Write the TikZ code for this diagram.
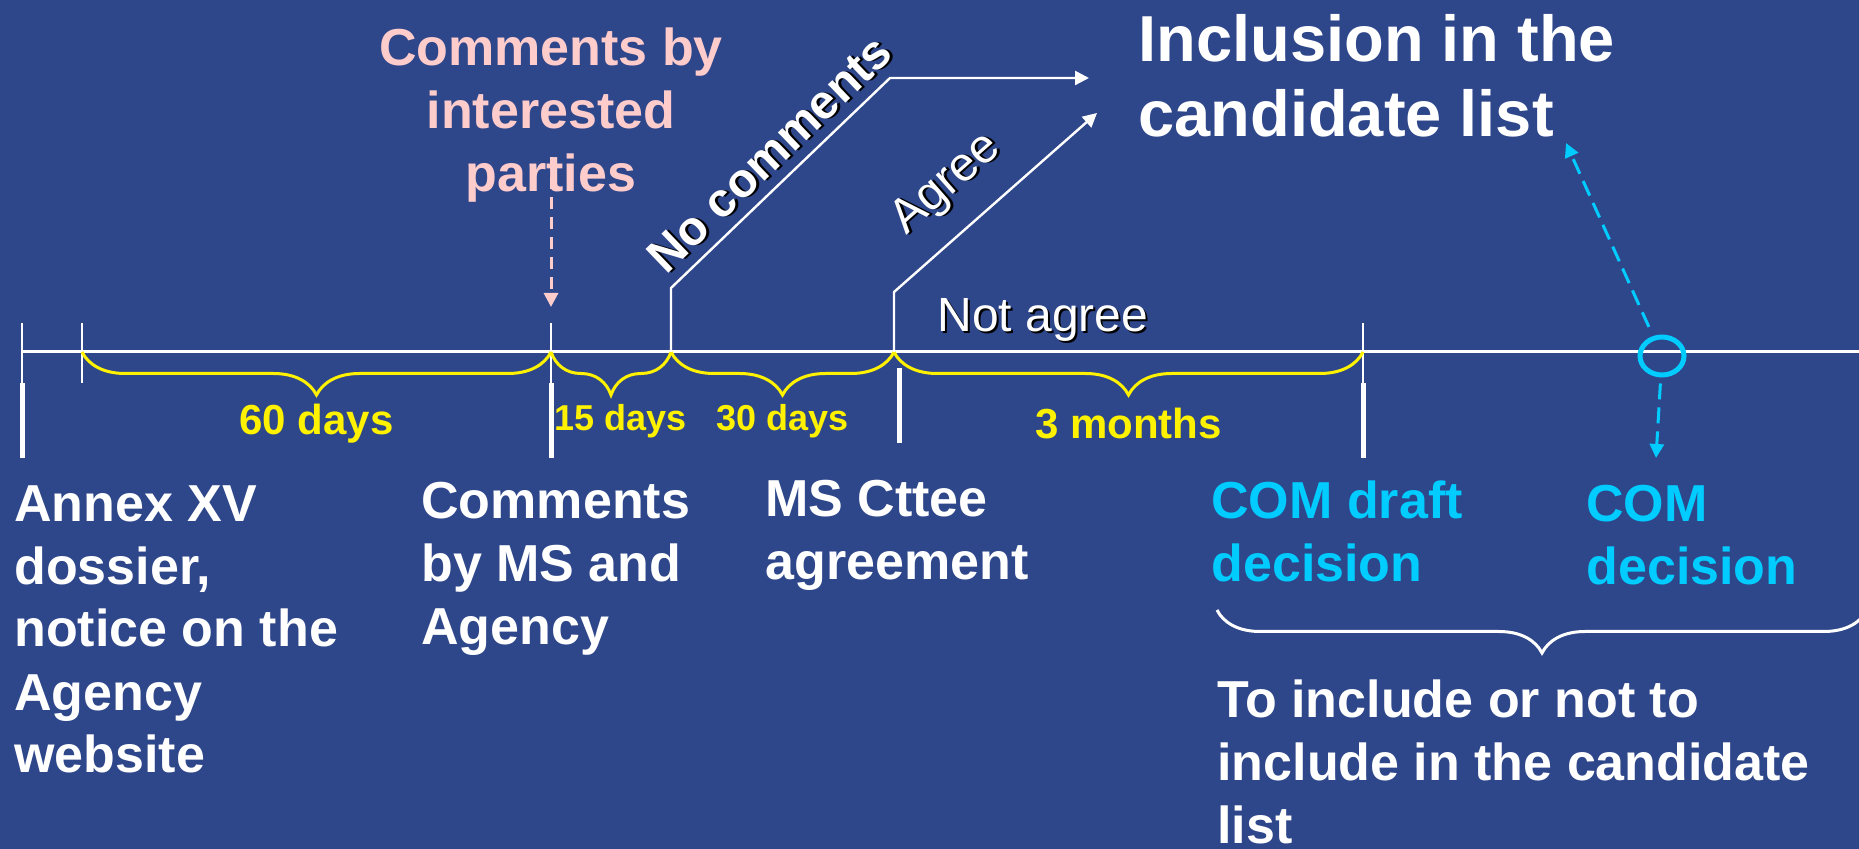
\documentclass[tikz,border=0pt]{standalone}
\usepackage{fontspec}
\setmainfont{Liberation Sans}
\usetikzlibrary{arrows.meta,calc,decorations.pathreplacing,shapes.geometric}

\definecolor{slidebg}{RGB}{46,70,138}
\definecolor{ipink}{RGB}{255,204,204}
\definecolor{comcyan}{RGB}{0,204,255}

% white text with a dark drop shadow
\newcommand{\shtext}[1]{\makebox[0pt][l]{\hspace{1pt}\raisebox{-1pt}{\color{black}#1}}#1}

\tikzset{
  evtext/.style={anchor=base west, align=left, inner sep=0pt, text=white,
    font=\fontsize{26}{31.5}\selectfont\bfseries},
  comtext/.style={evtext, text=comcyan},
  dlabel/.style={inner sep=0pt, text=yellow, anchor=north},
  axis/.style={draw=white, line width=1.5pt},
  tick/.style={draw=white, line width=1.2pt},
  bigtick/.style={draw=white, line width=2.5pt},
  ybrace/.style={draw=yellow, line width=1.5pt, decorate,
    decoration={brace, mirror, amplitude=21.5pt}},
  wbrace/.style={draw=white, line width=1.5pt, decorate,
    decoration={brace, mirror, amplitude=21.5pt}},
  branch/.style={draw=white, line width=1.2pt, -{Triangle[length=7pt,width=7pt]}},
  pinkarrow/.style={draw=ipink, line width=1.5pt, dash pattern=on 6pt off 4pt,
    -{Triangle[length=7pt,width=7pt]}},
  cyanarrow/.style={draw=comcyan, line width=1.5pt, dash pattern=on 8pt off 4pt,
    -{Triangle[length=7pt,width=7pt]}},
}

\begin{document}
\begin{tikzpicture}[x=0.5pt,y=-0.5pt]
 \useasboundingbox (0,0) rectangle (1859,849);
 \fill[slidebg] (0,0) rectangle (1859,849);
 %
 \coordinate (t0) at (22,352);
 \coordinate (t1) at (82,352);
 \coordinate (t2) at (551,352);
 \coordinate (t3) at (671,352);
 \coordinate (t4) at (894,352);
 \coordinate (t5) at (1363,352);
 \coordinate (tend) at (1859,352);
 \coordinate (nc0) at (671,288);
 \coordinate (nc1) at (890,78);
 \coordinate (nc2) at (1089,78);
 \coordinate (ag0) at (894,292);
 \coordinate (ag1) at (1097,113);
 \coordinate (ip0) at (551,157);
 \coordinate (ip1) at (551,307);
 \coordinate (cl) at (1566,143);
 \coordinate (cd) at (1656,458);
 %
 \draw[axis] (t0) -- (tend);
 \foreach \t in {t0,t1,t2,t5}
   \draw[tick] ($(\t)+(0,-29)$) -- ($(\t)+(0,31)$);
 \foreach \t in {t0,t2,t5}
   \draw[bigtick] ($(\t)+(0,31)$) -- ($(\t)+(0,106)$);
 \draw[bigtick] ($(t4)+(5,16)$) -- ($(t4)+(5,91)$);
 %
 \draw[ybrace] (t1) -- node[dlabel, below=25.5pt, font=\fontsize{21}{25}\selectfont\bfseries] {60 days} (t2);
 \draw[ybrace] (t2) -- node[dlabel, below=25.5pt, xshift=5pt, font=\fontsize{18}{22}\selectfont\bfseries] {15 days} (t3);
 \draw[ybrace] (t3) -- node[dlabel, below=25.5pt, font=\fontsize{18}{22}\selectfont\bfseries] {30 days} (t4);
 \draw[ybrace] (t4) -- node[dlabel, below=27.5pt, font=\fontsize{21}{25}\selectfont\bfseries] {3 months} (t5);
 %
 \draw[branch] (t3) -- (nc0) -- node[sloped, above=1pt, pos=0.54, text=white,
   font=\fontsize{24}{28}\selectfont\bfseries] {\shtext{No comments}} (nc1) -- (nc2);
 \draw[branch] (t4) -- (ag0) -- node[sloped, above=7pt, pos=0.41, text=white,
   font=\fontsize{24}{28}\selectfont] {\shtext{Agree}} (ag1);
 \node[anchor=base west, inner sep=0pt, text=white, font=\fontsize{24}{28}\selectfont]
   (notagree) at (937,332) {\shtext{Not agree}};
 %
 % multi-line nodes: base = baseline of the last line
 \node[anchor=base, align=center, inner sep=0pt, text=ipink,
   font=\fontsize{26}{31.5}\selectfont\bfseries] (parties) at (551,192)
   {Comments by\\interested\\parties};
 \draw[pinkarrow] (ip0) -- (ip1);
 %
 \node[evtext, font=\fontsize{32.5}{37.5}\selectfont\bfseries] (inclusion) at (1138,137)
   {Inclusion in the\\candidate list};
 %
 \node[evtext] (annex) at (14,773) {Annex XV\\dossier,\\notice on the\\Agency\\website};
 \node[evtext] (msag) at (421,645) {Comments\\by MS and\\Agency};
 \node[evtext] (cttee) at (765,580) {MS Cttee\\agreement};
 \node[comtext] (draft) at (1211,582) {COM draft\\decision};
 \node[comtext] (comdec) at (1586,585) {COM\\decision};
 %
 \node[draw=comcyan, line width=2.5pt, ellipse, inner sep=0pt,
   minimum width=22pt, minimum height=19pt] (dec) at (1662,356) {};
 \draw[cyanarrow, shorten <=5pt] (dec) -- (cl);
 \draw[cyanarrow, shorten <=3pt] (dec) -- (cd);
 %
 \draw[wbrace] (1217,610) -- (1867,610);
 \node[evtext] (toinc) at (1217,843)
   {To include or not to\\include in the candidate\\list};
\end{tikzpicture}
\end{document}
